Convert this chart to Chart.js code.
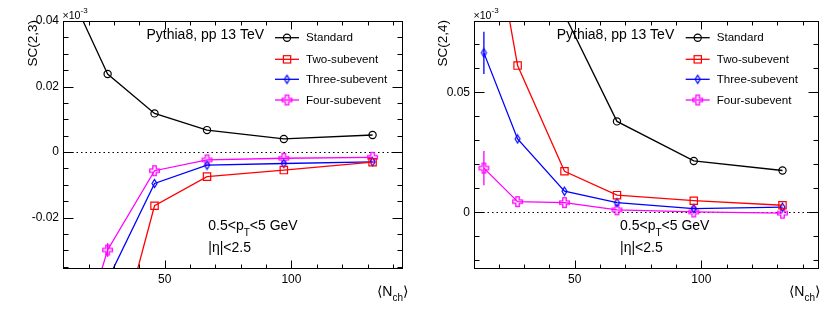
<!DOCTYPE html>
<html>
<head>
<meta charset="utf-8">
<script src="https://cdn.jsdelivr.net/npm/chart.js@4.4.1/dist/chart.umd.min.js"></script>
<style>
  html, body { margin: 0; padding: 0; background: #fff; }
  #wrap { position: relative; width: 830px; height: 311px; }
  canvas { position: absolute; top: 0; }
</style>
</head>
<body>
<div id="wrap">
  <canvas id="c23" width="415" height="311" style="left:0"></canvas>
  <canvas id="c24" width="415" height="311" style="left:415px"></canvas>
</div>
<script>
// ── Data (values in units of 10^-3) ──

const nch = [14.2, 27.5, 46, 66.7, 97, 132];
const labels = ['Standard', 'Two-subevent', 'Three-subevent', 'Four-subevent'];

const sc23Standard = [0.046, 0.0238, 0.0118, 0.0067, 0.0040, 0.0052];
const sc23Two      = [-0.14, -0.070, -0.0164, -0.0075, -0.0055, -0.0031];
const sc23Three    = [-0.09, -0.0391, -0.0096, -0.0040, -0.0035, -0.0030];
const sc23Four     = [-0.064, -0.0299, -0.0057, -0.0024, -0.0019, -0.0016];
const sc23FourErr  = [0, 0.0021, 0, 0, 0, 0];

const sc24Standard = [0.16, 0.12, 0.0825, 0.0379, 0.0214, 0.0174];
const sc24Two      = [0.14, 0.0612, 0.0171, 0.0071, 0.0048, 0.0029];
const sc24Three    = [0.0665, 0.0306, 0.0088, 0.0040, 0.0015, 0.0021];
const sc24Four     = [0.0184, 0.0044, 0.0040, 0.0010, 0.0001, -0.0004];
const sc24ThreeErr = [0.0088, 0, 0, 0, 0, 0];
const sc24FourErr  = [0.0071, 0, 0, 0, 0, 0];

const xTicks = [50, 100];
const sc23YTicks = [-0.02, 0, 0.02, 0.04];
const sc24YTicks = [0, 0.05];

// ── Style ──

const FONT = "'Liberation Sans', Arial, Helvetica, sans-serif";
const COLORS = ['#000000', '#ff0000', '#0000ff', '#ff00ff'];

const markerCanvas = (w, h, draw) => {
  const c = document.createElement('canvas');
  c.width = w; c.height = h;
  draw(c.getContext('2d'), w, h);
  return c;
};

const diamond = markerCanvas(9, 11, (g) => {
  g.strokeStyle = COLORS[2]; g.lineWidth = 1.2;
  g.beginPath();
  g.moveTo(4.5, 1.5); g.lineTo(7, 5.5); g.lineTo(4.5, 9.5); g.lineTo(2, 5.5); g.closePath();
  g.stroke();
});

const openCross = markerCanvas(13, 13, (g) => {
  const c = 6.5, a = 1.7, L = 4.8;
  g.strokeStyle = COLORS[3]; g.lineWidth = 1.3;
  g.beginPath();
  [[c - a, c - L], [c + a, c - L], [c + a, c - a], [c + L, c - a], [c + L, c + a], [c + a, c + a],
   [c + a, c + L], [c - a, c + L], [c - a, c + a], [c - L, c + a], [c - L, c - a], [c - a, c - a]]
    .forEach(([px, py], i) => i ? g.lineTo(px, py) : g.moveTo(px, py));
  g.closePath();
  g.stroke();
});

const STYLES = [
  { pointStyle: 'circle', pointRadius: 3.6 },
  { pointStyle: 'rect', pointRadius: 5.2 },
  { pointStyle: diamond, pointRadius: 5 },
  { pointStyle: openCross, pointRadius: 6 },
];

function drawMarker(ctx, i, x, y) {
  ctx.save();
  ctx.strokeStyle = COLORS[i];
  ctx.lineWidth = 1.2;
  if (i === 0) {
    ctx.beginPath(); ctx.arc(x, y, 3.6, 0, Math.PI * 2); ctx.stroke();
  } else if (i === 1) {
    ctx.strokeRect(x - 3.6, y - 3.6, 7.3, 7.3);
  } else {
    const img = i === 2 ? diamond : openCross;
    ctx.drawImage(img, x - img.width / 2, y - img.height / 2);
  }
  ctx.restore();
}

function drawParts(ctx, parts, x, y, align) {
  let w = 0;
  parts.forEach(p => { ctx.font = `${p.s}px ${FONT}`; p.w = ctx.measureText(p.t).width; w += p.w; });
  let cx = align === 'right' ? x - w : x;
  ctx.textAlign = 'left';
  ctx.textBaseline = 'alphabetic';
  parts.forEach(p => {
    ctx.font = `${p.s}px ${FONT}`;
    ctx.fillText(p.t, cx, y + (p.dy || 0));
    cx += p.w;
  });
}

// ── ROOT-like frame, ticks, texts, legend ──

function rootPlugin(p) {
  return {
    id: 'rootFrame',
    beforeDatasetsDraw(chart) {
      const { ctx, chartArea: a, scales: { y } } = chart;
      const y0 = Math.round(y.getPixelForValue(0)) + 0.5;
      ctx.save();
      ctx.strokeStyle = '#000';
      ctx.lineWidth = 1.2;
      ctx.setLineDash([1.5, 3]);
      ctx.beginPath(); ctx.moveTo(a.left, y0); ctx.lineTo(a.right, y0); ctx.stroke();
      ctx.restore();
    },
    afterDatasetsDraw(chart) {
      const { ctx, chartArea: a, scales: { x, y } } = chart;
      ctx.save();
      ctx.beginPath(); ctx.rect(a.left, a.top, a.right - a.left, a.bottom - a.top); ctx.clip();
      ctx.lineWidth = 1.3;
      p.errors.forEach(({ idx, vals, errs }) => {
        ctx.strokeStyle = COLORS[idx];
        errs.forEach((e, i) => {
          if (!e) return;
          const px = x.getPixelForValue(nch[i]);
          ctx.beginPath();
          ctx.moveTo(px, y.getPixelForValue(vals[i] + e));
          ctx.lineTo(px, y.getPixelForValue(vals[i] - e));
          ctx.stroke();
        });
      });
      ctx.restore();
    },
    afterDraw(chart) {
      const { ctx, chartArea: a, scales: { x, y } } = chart;
      ctx.save();
      ctx.strokeStyle = '#000';
      ctx.fillStyle = '#000';
      ctx.lineWidth = 1;
      const L = a.left + 0.5, R = a.right - 0.5, T = a.top + 0.5, B = a.bottom - 0.5;
      ctx.strokeRect(L, T, R - L, B - T);

      // ticks on all four sides, pointing inwards
      ctx.beginPath();
      for (let v = p.xMinorStart; v <= x.max; v += 10) {
        const px = Math.round(x.getPixelForValue(v)) + 0.5;
        const len = v % 50 === 0 ? 8 : 4;
        ctx.moveTo(px, B); ctx.lineTo(px, B - len);
        ctx.moveTo(px, T); ctx.lineTo(px, T + len);
      }
      for (let k = Math.ceil(y.min / p.yMinor - 1e-6); k * p.yMinor <= y.max + 1e-9; k++) {
        const v = k * p.yMinor;
        const py = Math.round(y.getPixelForValue(v)) + 0.5;
        const major = Math.abs(v / p.yMajor - Math.round(v / p.yMajor)) < 1e-6;
        const len = major ? 10 : 5;
        ctx.moveTo(L, py); ctx.lineTo(L + len, py);
        ctx.moveTo(R, py); ctx.lineTo(R - len, py);
      }
      ctx.stroke();

      // y title
      ctx.save();
      ctx.translate(p.yTitleX, a.top - 1);
      ctx.rotate(-Math.PI / 2);
      ctx.font = `13.5px ${FONT}`;
      ctx.textAlign = 'right';
      ctx.textBaseline = 'middle';
      ctx.fillText(p.yTitle, 0, 0);
      ctx.restore();

      // exponent
      drawParts(ctx, [{ t: '×10', s: 10.6 }, { t: '-3', s: 8, dy: -6 }], a.left - 0.5, a.top - 2.5);

      // x title
      drawParts(ctx, [{ t: '⟨', s: 14 }, { t: 'N', s: 14 }, { t: 'ch', s: 10, dy: 5 }, { t: '⟩', s: 14 }],
        p.xTitleRight, 296, 'right');

      drawParts(ctx, [{ t: 'Pythia8, pp 13 TeV', s: 14 }], p.textX, 38.5);
      drawParts(ctx, [{ t: '0.5<p', s: 14 }, { t: 'T', s: 10, dy: 6 }, { t: '<5 GeV', s: 14 }], p.kinX, 230);
      drawParts(ctx, [{ t: '|η|<2.5', s: 14 }], p.kinX, 251.5);

      // legend
      const rows = [37.7, 59.3, 79.3, 100];
      labels.forEach((lab, i) => {
        ctx.strokeStyle = COLORS[i];
        ctx.lineWidth = 1.3;
        ctx.beginPath(); ctx.moveTo(p.legX, rows[i]); ctx.lineTo(p.legX + 24, rows[i]); ctx.stroke();
        drawMarker(ctx, i, p.legX + 12, rows[i]);
        ctx.fillStyle = '#000';
        ctx.font = `11.6px ${FONT}`;
        ctx.textAlign = 'left';
        ctx.textBaseline = 'middle';
        ctx.fillText(lab, p.legX + 31, rows[i] + 0.5);
      });
      ctx.restore();
    },
  };
}

const fmtTick = v => (Math.abs(v) < 1e-9 ? '0' : String(+v.toFixed(3)));

function makeChart(id, series, p) {
  const datasets = series.map((vals, i) => ({
    label: labels[i],
    data: nch.map((n, k) => ({ x: n, y: vals[k] })),
    showLine: true,
    borderColor: COLORS[i],
    borderWidth: 1.3,
    backgroundColor: 'rgba(0,0,0,0)',
    pointBorderColor: COLORS[i],
    pointBackgroundColor: 'rgba(0,0,0,0)',
    pointBorderWidth: 1.2,
    pointStyle: STYLES[i].pointStyle,
    pointRadius: STYLES[i].pointRadius,
    tension: 0,
    clip: 0,
  }));

  return new Chart(document.getElementById(id), {
    type: 'scatter',
    data: { datasets },
    options: {
      responsive: false,
      animation: false,
      devicePixelRatio: 1,
      layout: { padding: { left: 0, bottom: 0, top: p.top, right: p.right } },
      events: [],
      plugins: { legend: { display: false }, tooltip: { enabled: false } },
      scales: {
        x: {
          type: 'linear',
          min: p.xMin, max: p.xMax,
          grid: { display: false, drawTicks: false },
          border: { display: false },
          afterFit: s => { s.height = 42; },
          afterBuildTicks: s => { s.ticks = xTicks.map(v => ({ value: v })); },
          ticks: { autoSkip: false, maxRotation: 0, padding: 3, color: '#000', font: { family: FONT, size: 12 } },
        },
        y: {
          type: 'linear',
          min: p.yMin, max: p.yMax,
          grid: { display: false, drawTicks: false },
          border: { display: false },
          afterFit: s => { s.width = p.left; },
          afterBuildTicks: s => { s.ticks = p.yTicks.map(v => ({ value: v })); },
          ticks: { autoSkip: false, padding: 4, color: '#000', font: { family: FONT, size: 12 }, callback: fmtTick },
        },
      },
    },
    plugins: [rootPlugin(p)],
  });
}

makeChart('c23', [sc23Standard, sc23Two, sc23Three, sc23Four], {
  left: 63, top: 21, right: 12,
  xMin: 9.9, xMax: 144, yMin: -0.0357, yMax: 0.04,
  yTicks: sc23YTicks, yMinor: 0.005, yMajor: 0.02, xMinorStart: 10,
  yTitle: 'SC(2,3)', yTitleX: 33, xTitleRight: 408,
  textX: 146.5, kinX: 208.3, legX: 275,
  errors: [{ idx: 3, vals: sc23Four, errs: sc23FourErr }],
});

makeChart('c24', [sc24Standard, sc24Two, sc24Three, sc24Four], {
  left: 59, top: 21, right: 11,
  xMin: 10.3, xMax: 146.4, yMin: -0.0237, yMax: 0.0798,
  yTicks: sc24YTicks, yMinor: 0.01, yMajor: 0.05, xMinorStart: 20,
  yTitle: 'SC(2,4)', yTitleX: 28, xTitleRight: 405,
  textX: 141.7, kinX: 205, legX: 270.7,
  errors: [
    { idx: 2, vals: sc24Three, errs: sc24ThreeErr },
    { idx: 3, vals: sc24Four, errs: sc24FourErr },
  ],
});
</script>
</body>
</html>
